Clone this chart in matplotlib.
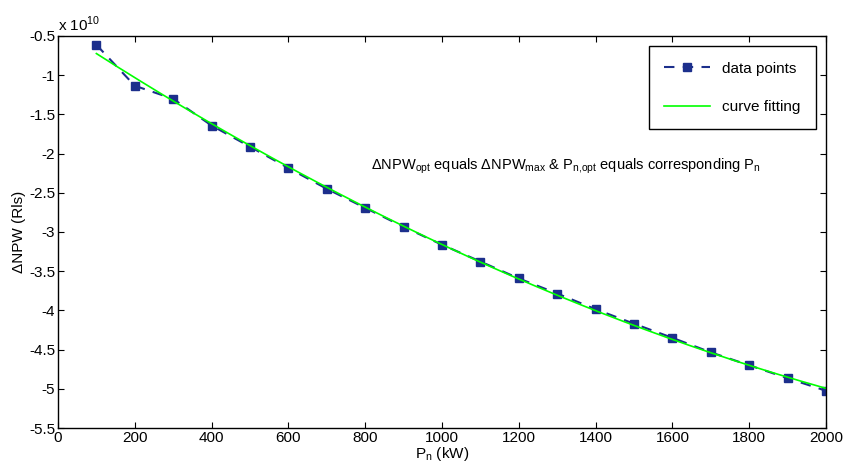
import numpy as np
import matplotlib.pyplot as plt

plt.rcParams['font.family'] = ['Liberation Sans', 'DejaVu Sans']

# rated power (kW) and delta NPW (x 1e10 Rls)
p_n = [100, 200, 300, 400, 500, 600, 700, 800, 900, 1000,
       1100, 1200, 1300, 1400, 1500, 1600, 1700, 1800, 1900, 2000]
d_npw = [-0.614, -1.136, -1.303, -1.643, -1.913, -2.185, -2.45, -2.693, -2.935, -3.163,
         -3.377, -3.593, -3.785, -3.985, -4.17, -4.35, -4.535, -4.70, -4.865, -5.025]

x = np.array(p_n)
y = np.array(d_npw)
coef = np.polyfit(x, y, 2)
xf = np.linspace(x[0], x[-1], 200)
yf = np.polyval(coef, xf)

fig = plt.figure(figsize=(8.44, 4.66), dpi=100)
ax = fig.add_axes([0.0687, 0.0815, 0.910, 0.8415])

ax.plot(x, y, '--', color='#1c2f8c', marker='s', markersize=6, linewidth=1.5,
        dashes=(5, 4), label='data points')
ax.plot(xf, yf, '-', color='#00ff00', linewidth=1.2, label='curve fitting')

ax.set_xlim(0, 2000)
ax.set_ylim(-5.5, -0.5)
ax.set_xticks(np.arange(0, 2001, 200))
ax.set_yticks(np.arange(-5.5, -0.49, 0.5))
ax.set_yticklabels(['%g' % v for v in np.arange(-5.5, -0.49, 0.5)])
ax.tick_params(direction='in', top=True, right=True, labelsize=11, length=4, pad=2)
for s in ax.spines.values():
    s.set_linewidth(1.0)

ax.set_xlabel('P$_{\\mathregular{n}}$ (kW)', fontsize=11, labelpad=0)
ax.set_ylabel('\u0394NPW (Rls)', fontsize=11, labelpad=2)
ax.text(0, 1.005, 'x 10$^{\\mathregular{10}}$', transform=ax.transAxes, fontsize=11,
        va='bottom', ha='left')

ax.text(815, -2.16, '\u0394NPW$_{\\mathregular{opt}}$ equals \u0394NPW$_{\\mathregular{max}}$ & '
        'P$_{\\mathregular{n{,}opt}}$ equals corresponding P$_{\\mathregular{n}}$',
        fontsize=10.5, va='center', ha='left')

leg = ax.legend(loc='upper right', fontsize=11, fancybox=False, framealpha=1,
                edgecolor='black', borderpad=1.0, labelspacing=1.6, handlelength=3.0,
                bbox_to_anchor=(0.997, 0.993))
leg.get_frame().set_linewidth(1.0)

fig.savefig('out.png', dpi=100)
